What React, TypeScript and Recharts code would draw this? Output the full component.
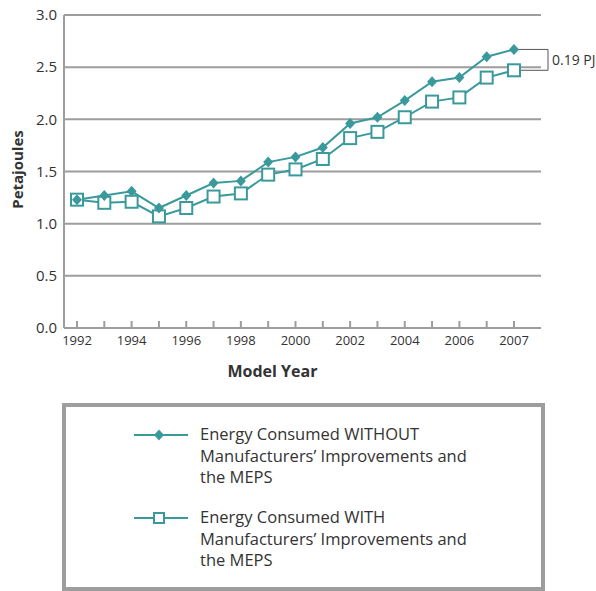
import React from 'react';
import { LineChart, Line, XAxis, YAxis, CartesianGrid, ReferenceLine, Legend } from 'recharts';

const years = [
  '1992', '1993', '1994', '1995', '1996', '1997', '1998', '1999', '2000',
  '2001', '2002', '2003', '2004', '2005', '2006', '2007', '2008',
];
// labels as printed under the ticks (the last tick is labelled 2007 in the source)
const tickLabels = [
  '1992', '', '1994', '', '1996', '', '1998', '', '2000',
  '', '2002', '', '2004', '', '2006', '', '2007',
];
const withoutMeps = [
  1.23, 1.27, 1.31, 1.15, 1.27, 1.39, 1.41, 1.59, 1.64,
  1.73, 1.96, 2.02, 2.18, 2.36, 2.4, 2.6, 2.67,
];
const withMeps = [
  1.23, 1.2, 1.21, 1.07, 1.15, 1.26, 1.29, 1.47, 1.52,
  1.62, 1.82, 1.88, 2.02, 2.17, 2.21, 2.4, 2.47,
];
const yTicks = [0, 0.5, 1, 1.5, 2, 2.5, 3];
const withoutLines = ['Energy Consumed WITHOUT', 'Manufacturers’ Improvements and', 'the MEPS'];
const withLines = ['Energy Consumed WITH', 'Manufacturers’ Improvements and', 'the MEPS'];
const gapLabel = '0.19 PJ';

const data = years.map((year, i) => ({ year, without: withoutMeps[i], with: withMeps[i] }));

const TEAL = '#3a9a9b';
const GRID = '#9d9d9d';
const FONT = '"Open Sans", sans-serif';
const TEXT = '#333';

const Diamond = (props: any) => {
  const { cx, cy } = props;
  if (cx == null || cy == null) return null;
  return <path d={`M${cx},${cy - 5.5}L${cx + 5},${cy}L${cx},${cy + 5.5}L${cx - 5},${cy}Z`} fill={TEAL} />;
};

const Square = (props: any) => {
  const { cx, cy } = props;
  if (cx == null || cy == null) return null;
  return <rect x={cx - 6} y={cy - 6} width={12} height={12} fill="#fff" stroke={TEAL} strokeWidth={2} />;
};

const XTick = (props: any) => {
  const { x, y, payload } = props;
  const label = tickLabels[payload.index];
  return (
    <g>
      <line x1={x} x2={x} y1={y - 7} y2={y} stroke={GRID} strokeWidth={2} />
      {label ? (
        <text x={x} y={y + 17} textAnchor="middle" fontSize={13} fontFamily={FONT} fill={TEXT}>
          {label}
        </text>
      ) : null}
    </g>
  );
};

const Bracket = (props: any) => {
  const { x1, y1, y2 } = props;
  if (x1 == null) return null;
  const bx = x1 + 34;
  return (
    <g>
      <path d={`M${x1},${y1}H${bx}V${y2}H${x1}`} fill="none" stroke="#555" strokeWidth={1} />
      <text x={bx + 4} y={(y1 + y2) / 2 + 5} fontSize={14} fontFamily={FONT} fill={TEXT}>
        {gapLabel}
      </text>
    </g>
  );
};

const LegendBox = () => {
  const item = (lines: string[], marker: React.ReactNode, top: number) => (
    <div style={{ position: 'absolute', left: 0, top, width: '100%' }}>
      <svg width={60} height={14} style={{ position: 'absolute', left: 66, top: 0 }}>
        <line x1={2} x2={56} y1={7} y2={7} stroke={TEAL} strokeWidth={2} />
        {marker}
      </svg>
      <div style={{ position: 'absolute', left: 134, top: -5, fontFamily: FONT, fontSize: 16.5, lineHeight: '21.5px', color: TEXT, whiteSpace: 'nowrap' }}>
        {lines.map((l) => (
          <div key={l}>{l}</div>
        ))}
      </div>
    </div>
  );
  return (
    <div style={{ position: 'relative', width: 483, height: 188, border: `4px solid ${GRID}`, boxSizing: 'border-box', background: '#fff' }}>
      {item(withoutLines, <path d="M27,1.5L32,7L27,12.5L22,7Z" fill={TEAL} />, 21)}
      {item(withLines, <rect x={22} y={2} width={10} height={10} fill="#fff" stroke={TEAL} strokeWidth={2} />, 104)}
    </div>
  );
};

export default function App() {
  return (
    <div style={{ position: 'absolute', left: 0, top: 0, width: 596, height: 591, background: '#fff' }}>
      <LineChart width={596} height={591} data={data} margin={{ top: 15, right: 55, bottom: 213, left: 0 }}>
        <CartesianGrid vertical={false} stroke={GRID} strokeWidth={2} />
        <XAxis
          dataKey="year"
          interval={0}
          padding={{ left: 13, right: 27 }}
          tickSize={0}
          tickMargin={0}
          tickLine={false}
          tick={<XTick />}
          height={50}
          axisLine={{ stroke: GRID, strokeWidth: 2 }}
          label={(p: any) => {
            const vb = p.viewBox;
            return (
              <text x={vb.x + vb.width / 2 - 30} y={vb.y + 49} textAnchor="middle" fontSize={16} fontWeight="bold" fontFamily={FONT} fill={TEXT}>
                Model Year
              </text>
            );
          }}
        />
        <YAxis
          domain={[0, 3]}
          ticks={yTicks}
          width={64}
          tickSize={0}
          tickMargin={7}
          tickFormatter={(v: number) => v.toFixed(1)}
          tick={{ fontSize: 15, fontFamily: FONT, fill: TEXT }}
          axisLine={{ stroke: GRID, strokeWidth: 2 }}
          label={(p: any) => {
            const vb = p.viewBox;
            const cy = vb.y + vb.height / 2 - 2;
            return (
              <text x={17} y={cy} transform={`rotate(-90, 17, ${cy})`} textAnchor="middle" dominantBaseline="central" fontSize={15} fontWeight="bold" fontFamily={FONT} fill={TEXT}>
                Petajoules
              </text>
            );
          }}
        />
        <YAxis yAxisId="right" orientation="right" width={0} tick={false} tickLine={false} axisLine={{ stroke: GRID, strokeWidth: 2 }} />
        <Line dataKey="with" stroke={TEAL} strokeWidth={2} dot={<Square />} activeDot={false} isAnimationActive={false} />
        <Line dataKey="without" stroke={TEAL} strokeWidth={2} dot={<Diamond />} activeDot={false} isAnimationActive={false} />
        <ReferenceLine
          segment={[
            { x: years[years.length - 1], y: withoutMeps[withoutMeps.length - 1] },
            { x: years[years.length - 1], y: withMeps[withMeps.length - 1] },
          ]}
          ifOverflow="visible"
          shape={<Bracket />}
        />
        <Legend
          layout="horizontal"
          verticalAlign="middle"
          align="center"
          wrapperStyle={{ position: 'absolute', left: 62, top: 403, width: 483, height: 188 }}
          content={() => <LegendBox />}
        />
      </LineChart>
    </div>
  );
}
